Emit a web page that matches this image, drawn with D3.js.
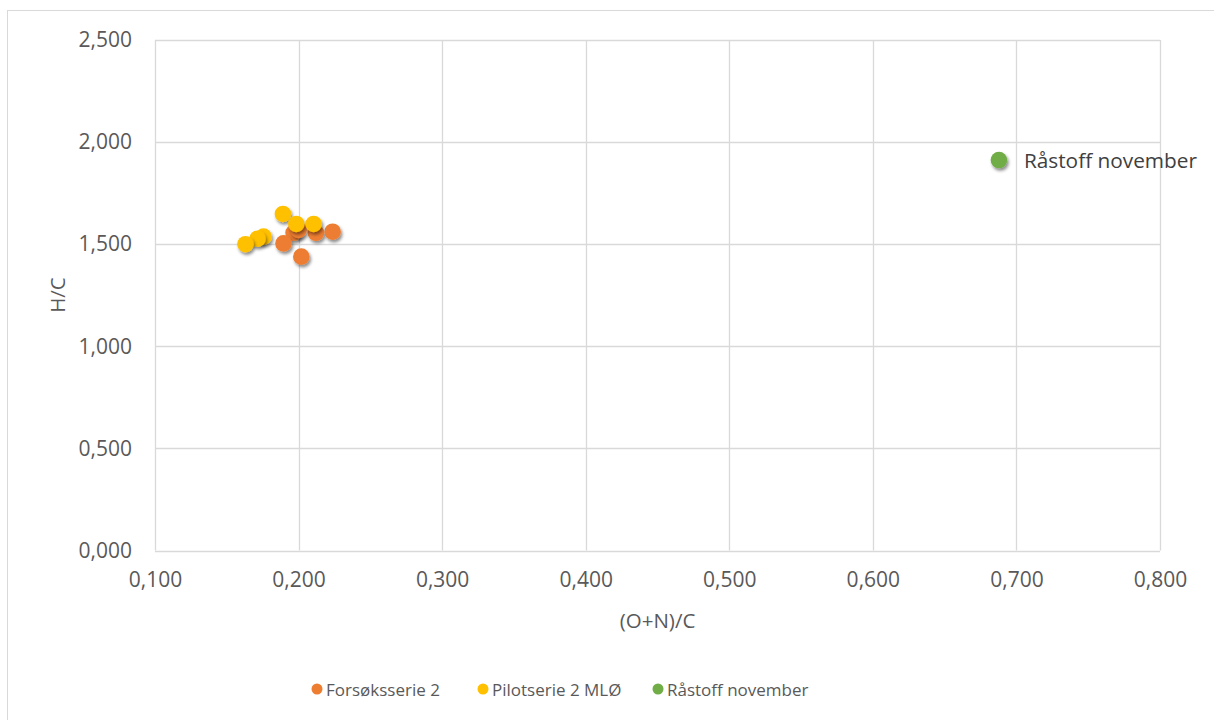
<!DOCTYPE html>
<html>
<head>
<meta charset="utf-8">
<script src="https://cdn.jsdelivr.net/npm/d3@7"></script>
<style>
  html, body { margin: 0; padding: 0; background: #fff; }
  svg { display: block; font-family: "Open Sans", "Noto Sans", sans-serif; }
</style>
</head>
<body>
<svg id="chart" width="1214" height="720"></svg>
<script>
// Atomic ratios: (O+N)/C on x, H/C on y
const forsokX = [0.1965, 0.2121, 0.2237, 0.1895, 0.2019, 0.2000];
const forsokY = [1.556, 1.556, 1.561, 1.504, 1.439, 1.570];
const pilotX = [0.1891, 0.1984, 0.2105, 0.1756, 0.1714, 0.1630];
const pilotY = [1.648, 1.599, 1.599, 1.537, 1.527, 1.500];
const rastoffX = [0.6878];
const rastoffY = [1.912];

const seriesNames = ["Forsøksserie 2", "Pilotserie 2 MLØ", "Råstoff november"];
const seriesColors = ["#ED7D31", "#FFC000", "#70AD47"];
const xTicks = [0.1, 0.2, 0.3, 0.4, 0.5, 0.6, 0.7, 0.8];
const yTicks = [0, 0.5, 1.0, 1.5, 2.0, 2.5];

const svg = d3.select("#chart");
const W = 1214, H = 720;
const plot = { left: 155, right: 1160, top: 40, bottom: 550.5 };

// Outer chart frame
svg.append("rect")
  .attr("x", 7.5).attr("y", 10.5)
  .attr("width", W + 10).attr("height", H + 10)
  .attr("fill", "#fff").attr("stroke", "#D9D9D9").attr("stroke-width", 1);

const x = d3.scaleLinear().domain([0.1, 0.8]).range([plot.left, plot.right]);
const y = d3.scaleLinear().domain([0, 2.5]).range([plot.bottom, plot.top]);

const fmt = d => d3.format(".3f")(d).replace(".", ",");

// Drop shadow for markers
const defs = svg.append("defs");
const f = defs.append("filter").attr("id", "shadow")
  .attr("x", "-50%").attr("y", "-50%").attr("width", "200%").attr("height", "200%");
f.append("feDropShadow").attr("dx", 1.5).attr("dy", 2.5).attr("stdDeviation", 1.6)
  .attr("flood-color", "#000").attr("flood-opacity", 0.45);

// Gridlines
const grid = svg.append("g");
grid.selectAll(".vg").data(xTicks).join("line")
  .attr("x1", d => Math.round(x(d)) + 0.5).attr("x2", d => Math.round(x(d)) + 0.5)
  .attr("y1", plot.top).attr("y2", plot.bottom)
  .attr("stroke", "#D9D9D9").attr("stroke-width", 1.3);
grid.selectAll(".hg").data(yTicks).join("line")
  .attr("x1", plot.left).attr("x2", plot.right)
  .attr("y1", d => Math.round(y(d)) + 0.5).attr("y2", d => Math.round(y(d)) + 0.5)
  .attr("stroke", "#D9D9D9").attr("stroke-width", 1.3);

// Axes (labels only; lines come from the grid)
const xAxis = svg.append("g")
  .attr("transform", `translate(0,${plot.bottom})`)
  .call(d3.axisBottom(x).tickValues(xTicks).tickFormat(fmt).tickSize(0).tickPadding(22));
xAxis.select(".domain").remove();
xAxis.selectAll("text").attr("fill", "#595959").attr("font-size", 21)
  .attr("font-family", "'Open Sans', sans-serif").attr("dy", "0.71em");

const yAxis = svg.append("g")
  .attr("transform", `translate(${plot.left},0)`)
  .call(d3.axisLeft(y).tickValues(yTicks).tickFormat(fmt).tickSize(0).tickPadding(23));
yAxis.select(".domain").remove();
yAxis.selectAll("text").attr("fill", "#595959").attr("font-size", 21)
  .attr("font-family", "'Open Sans', sans-serif");

// Axis titles
svg.append("text").attr("x", (plot.left + plot.right) / 2).attr("y", 628)
  .attr("text-anchor", "middle").attr("font-size", 20.5).attr("fill", "#595959")
  .text("(O+N)/C");
svg.append("text").attr("transform", "translate(65,295) rotate(-90)")
  .attr("text-anchor", "middle").attr("font-size", 20.5).attr("fill", "#595959")
  .text("H/C");

// Series
const series = [
  { xs: forsokX, ys: forsokY },
  { xs: pilotX, ys: pilotY },
  { xs: rastoffX, ys: rastoffY }
];
series.forEach((s, i) => {
  const pts = s.xs.map((v, k) => [v, s.ys[k]]);
  svg.append("g").selectAll("circle").data(pts).join("circle")
    .attr("cx", d => x(d[0])).attr("cy", d => y(d[1]))
    .attr("r", 8.3)
    .attr("fill", seriesColors[i])
    .attr("filter", "url(#shadow)");
});

// Data label for the raw material point
svg.append("text")
  .attr("x", x(rastoffX[0]) + 25).attr("y", y(rastoffY[0]) + 8)
  .attr("font-size", 20.8).attr("fill", "#404040")
  .text(seriesNames[2]);

// Legend
const legend = svg.append("g").attr("transform", "translate(0,689)");
let lx = 317;
const lw = [166, 175, 0];
seriesNames.forEach((name, i) => {
  legend.append("circle").attr("cx", lx).attr("cy", 0).attr("r", 5.5).attr("fill", seriesColors[i]);
  legend.append("text").attr("x", lx + 9).attr("y", 6.5)
    .attr("font-size", 17).attr("fill", "#595959").text(name);
  lx += lw[i];
});
</script>
</body>
</html>
